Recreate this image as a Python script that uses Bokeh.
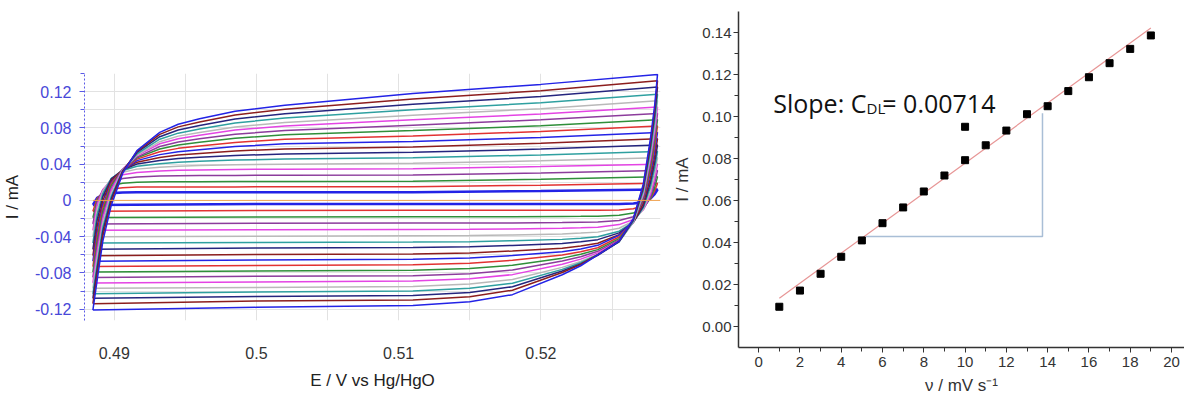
from bokeh.plotting import figure
from bokeh.layouts import row
from bokeh.models import FixedTicker, CustomJSTickFormatter, Label
from bokeh.embed import file_html
from bokeh.resources import INLINE

# ---------------- Left panel: cyclic voltammograms ----------------
E_ANODIC = [0.4885, 0.4888, 0.4892, 0.4898, 0.4906, 0.4916, 0.4932, 0.4945, 0.4960, 0.4985, 0.5020, 0.5110, 0.5200, 0.5282]
E_CATHODIC = [0.5282, 0.5280, 0.5277, 0.5272, 0.5265, 0.5255, 0.5240, 0.5228, 0.5215, 0.5180, 0.5150, 0.5110, 0.5000, 0.4885]

I_ANODIC = [
    [-0.0050, 0.0027, 0.0062, 0.0080, 0.0087, 0.0090, 0.0090, 0.0090, 0.0090, 0.0090, 0.0090, 0.0090, 0.0104, 0.0120],
    [-0.0120, 0.0020, 0.0087, 0.0125, 0.0140, 0.0147, 0.0148, 0.0149, 0.0149, 0.0149, 0.0150, 0.0150, 0.0168, 0.0190],
    [-0.0190, 0.0003, 0.0103, 0.0163, 0.0189, 0.0199, 0.0205, 0.0206, 0.0207, 0.0208, 0.0209, 0.0210, 0.0233, 0.0260],
    [-0.0260, -0.0017, 0.0118, 0.0204, 0.0242, 0.0258, 0.0269, 0.0273, 0.0275, 0.0276, 0.0277, 0.0280, 0.0303, 0.0330],
    [-0.0330, -0.0051, 0.0119, 0.0232, 0.0284, 0.0309, 0.0325, 0.0332, 0.0336, 0.0341, 0.0345, 0.0350, 0.0373, 0.0400],
    [-0.0400, -0.0100, 0.0102, 0.0242, 0.0310, 0.0345, 0.0367, 0.0378, 0.0386, 0.0394, 0.0400, 0.0410, 0.0437, 0.0470],
    [-0.0470, -0.0160, 0.0075, 0.0244, 0.0329, 0.0376, 0.0404, 0.0421, 0.0432, 0.0445, 0.0456, 0.0470, 0.0502, 0.0540],
    [-0.0540, -0.0219, 0.0041, 0.0238, 0.0337, 0.0402, 0.0441, 0.0463, 0.0477, 0.0496, 0.0512, 0.0530, 0.0566, 0.0610],
    [-0.0610, -0.0286, -0.0002, 0.0222, 0.0338, 0.0422, 0.0474, 0.0500, 0.0518, 0.0546, 0.0568, 0.0590, 0.0631, 0.0680],
    [-0.0670, -0.0353, -0.0050, 0.0201, 0.0333, 0.0439, 0.0505, 0.0537, 0.0558, 0.0594, 0.0624, 0.0650, 0.0695, 0.0750],
    [-0.0730, -0.0403, -0.0082, 0.0187, 0.0340, 0.0455, 0.0537, 0.0574, 0.0599, 0.0640, 0.0674, 0.0710, 0.0760, 0.0820],
    [-0.0790, -0.0458, -0.0119, 0.0166, 0.0344, 0.0469, 0.0567, 0.0611, 0.0641, 0.0686, 0.0723, 0.0770, 0.0824, 0.0890],
    [-0.0850, -0.0514, -0.0161, 0.0141, 0.0343, 0.0477, 0.0595, 0.0645, 0.0679, 0.0730, 0.0771, 0.0830, 0.0889, 0.0960],
    [-0.0910, -0.0573, -0.0203, 0.0116, 0.0345, 0.0494, 0.0625, 0.0681, 0.0719, 0.0776, 0.0822, 0.0890, 0.0953, 0.1030],
    [-0.0970, -0.0640, -0.0250, 0.0081, 0.0335, 0.0501, 0.0648, 0.0709, 0.0749, 0.0810, 0.0860, 0.0940, 0.1012, 0.1100],
    [-0.1030, -0.0705, -0.0299, 0.0046, 0.0330, 0.0513, 0.0675, 0.0742, 0.0787, 0.0854, 0.0909, 0.1000, 0.1077, 0.1170],
    [-0.1080, -0.0753, -0.0340, 0.0022, 0.0326, 0.0529, 0.0703, 0.0777, 0.0827, 0.0899, 0.0957, 0.1060, 0.1146, 0.1250],
    [-0.1140, -0.0812, -0.0390, -0.0010, 0.0316, 0.0541, 0.0729, 0.0811, 0.0865, 0.0942, 0.1005, 0.1120, 0.1210, 0.1320],
    [-0.1210, -0.0880, -0.0450, -0.0050, 0.0300, 0.0550, 0.0750, 0.0840, 0.0900, 0.0983, 0.1050, 0.1180, 0.1280, 0.1390],
]

I_CATHODIC = [
    [0.0120, 0.0070, 0.0021, -0.0019, -0.0035, -0.0040, -0.0040, -0.0040, -0.0040, -0.0040, -0.0040, -0.0040, -0.0040, -0.0050],
    [0.0190, 0.0104, 0.0016, -0.0058, -0.0092, -0.0105, -0.0108, -0.0108, -0.0109, -0.0110, -0.0110, -0.0110, -0.0112, -0.0120],
    [0.0260, 0.0144, 0.0022, -0.0085, -0.0140, -0.0165, -0.0174, -0.0176, -0.0177, -0.0180, -0.0180, -0.0180, -0.0183, -0.0190],
    [0.0330, 0.0191, 0.0040, -0.0099, -0.0180, -0.0221, -0.0238, -0.0241, -0.0244, -0.0250, -0.0250, -0.0250, -0.0253, -0.0260],
    [0.0400, 0.0242, 0.0067, -0.0104, -0.0210, -0.0267, -0.0296, -0.0303, -0.0308, -0.0316, -0.0319, -0.0320, -0.0324, -0.0330],
    [0.0470, 0.0298, 0.0103, -0.0098, -0.0229, -0.0307, -0.0350, -0.0361, -0.0370, -0.0381, -0.0387, -0.0390, -0.0395, -0.0400],
    [0.0540, 0.0360, 0.0150, -0.0080, -0.0240, -0.0340, -0.0400, -0.0417, -0.0430, -0.0445, -0.0455, -0.0460, -0.0465, -0.0470],
    [0.0610, 0.0420, 0.0195, -0.0065, -0.0241, -0.0358, -0.0433, -0.0456, -0.0475, -0.0497, -0.0512, -0.0520, -0.0526, -0.0540],
    [0.0680, 0.0483, 0.0243, -0.0036, -0.0243, -0.0378, -0.0472, -0.0502, -0.0527, -0.0558, -0.0579, -0.0590, -0.0597, -0.0610],
    [0.0750, 0.0550, 0.0300, 0.0000, -0.0230, -0.0384, -0.0496, -0.0535, -0.0566, -0.0608, -0.0635, -0.0650, -0.0657, -0.0670],
    [0.0820, 0.0603, 0.0340, 0.0014, -0.0236, -0.0404, -0.0522, -0.0567, -0.0603, -0.0661, -0.0693, -0.0710, -0.0717, -0.0730],
    [0.0890, 0.0656, 0.0380, 0.0028, -0.0239, -0.0421, -0.0543, -0.0595, -0.0637, -0.0715, -0.0751, -0.0770, -0.0778, -0.0790],
    [0.0960, 0.0709, 0.0423, 0.0047, -0.0239, -0.0436, -0.0562, -0.0621, -0.0669, -0.0767, -0.0808, -0.0830, -0.0838, -0.0850],
    [0.1030, 0.0765, 0.0460, 0.0064, -0.0241, -0.0448, -0.0579, -0.0648, -0.0704, -0.0819, -0.0865, -0.0890, -0.0899, -0.0910],
    [0.1100, 0.0819, 0.0499, 0.0081, -0.0239, -0.0458, -0.0595, -0.0674, -0.0739, -0.0872, -0.0923, -0.0950, -0.0960, -0.0970],
    [0.1170, 0.0877, 0.0541, 0.0107, -0.0230, -0.0458, -0.0599, -0.0688, -0.0761, -0.0913, -0.0970, -0.1000, -0.1010, -0.1030],
    [0.1250, 0.0942, 0.0592, 0.0135, -0.0217, -0.0454, -0.0606, -0.0701, -0.0779, -0.0953, -0.1016, -0.1050, -0.1060, -0.1080],
    [0.1320, 0.1000, 0.0638, 0.0158, -0.0207, -0.0449, -0.0599, -0.0707, -0.0795, -0.0991, -0.1062, -0.1100, -0.1110, -0.1140],
    [0.1390, 0.1050, 0.0680, 0.0180, -0.0200, -0.0450, -0.0600, -0.0721, -0.0820, -0.1040, -0.1118, -0.1160, -0.1180, -0.1210],
]

LOOP_COLORS = ["#2323e6", "#e23232", "#2f8f3a", "#8c3c9c", "#e444e4", "#b9b9b9", "#2fa0a0", "#25257e", "#8c1e1e",
               "#2323e6", "#e23232", "#2f8f3a", "#8c3c9c", "#e444e4", "#b9b9b9", "#2fa0a0", "#25257e", "#8c1e1e",
               "#2323e6"]

BASELINE_E = [0.4885, 0.5284]
BASELINE_I = [0.0, 0.0]

CV_Y_TICKS = [-0.12, -0.08, -0.04, 0.0, 0.04, 0.08, 0.12]
CV_Y_MINOR = [-0.14, -0.10, -0.06, -0.02, 0.02, 0.06, 0.10, 0.14]
CV_X_TICKS = [0.49, 0.50, 0.51, 0.52]
CV_X_MINOR = [0.495, 0.505, 0.515, 0.525]

# ---------------- Right panel: double-layer capacitance ----------------
SCAN_RATE = [1, 2, 3, 4, 5, 6, 7, 8, 9, 10, 11, 12, 13, 14, 15, 16, 17, 18, 19, 10]
CURRENT = [0.0094, 0.0171, 0.0251, 0.0332, 0.0410, 0.0492, 0.0567, 0.0643, 0.0719, 0.0792,
           0.0863, 0.0933, 0.1011, 0.1049, 0.1121, 0.1187, 0.1254, 0.1322, 0.1386, 0.0951]
FIT_V = [1, 19]
FIT_I = [0.0135, 0.1421]
TRI_V = [5.2, 13.75, 13.75]
TRI_I = [0.0429, 0.0429, 0.1016]
CDL_X_TICKS = [0, 2, 4, 6, 8, 10, 12, 14, 16, 18, 20]
CDL_X_MINOR = [-1, 1, 3, 5, 7, 9, 11, 13, 15, 17, 19]
CDL_Y_TICKS = [0.0, 0.02, 0.04, 0.06, 0.08, 0.10, 0.12, 0.14]
CDL_Y_MINOR = [0.01, 0.03, 0.05, 0.07, 0.09, 0.11, 0.13]

FONT = "Liberation Sans"

# ---------------- Left figure ----------------
p1 = figure(width=670, height=392, x_range=(0.48791, 0.52841), y_range=(-0.1325, 0.14),
            output_backend="svg", toolbar_location=None,
            min_border_left=78, min_border_right=10, min_border_top=73, min_border_bottom=70)
p1.frame_align = False
p1.outline_line_color = None

for k in range(len(I_ANODIC)):
    xs = E_ANODIC + E_CATHODIC
    ys = I_ANODIC[k] + I_CATHODIC[k]
    p1.line(xs, ys, line_color=LOOP_COLORS[k], line_width=(2.6 if k == 0 else 1.5))
p1.line(BASELINE_E, BASELINE_I, line_color="#f3a44f", line_width=1.0)

p1.yaxis.ticker = FixedTicker(ticks=CV_Y_TICKS, minor_ticks=CV_Y_MINOR)
p1.xaxis.ticker = FixedTicker(ticks=CV_X_TICKS, minor_ticks=CV_X_MINOR)
p1.yaxis.formatter = CustomJSTickFormatter(code="const v = Math.round(tick*100)/100; return v === 0 ? '0' : v.toFixed(2);")
p1.xaxis.formatter = CustomJSTickFormatter(code="return String(Math.round(tick*100)/100);")
for g in (p1.xgrid, p1.ygrid):
    g.grid_line_color = "#e2e2e2"
    g.minor_grid_line_color = "#e2e2e2"

ya = p1.yaxis[0]
ya.axis_line_color = "#5a5ae6"
ya.axis_line_dash = "2 2"
ya.major_tick_line_color = "#5a5ae6"
ya.minor_tick_line_color = "#5a5ae6"
ya.major_tick_out = 5
ya.major_tick_in = 0
ya.minor_tick_out = 4
ya.minor_tick_in = 0
ya.major_label_standoff = 8
ya.major_label_text_color = "#4848d8"
ya.major_label_text_font = FONT
ya.major_label_text_font_size = "16px"
ya.axis_label = "I / mA"
ya.axis_label_text_font = FONT
ya.axis_label_text_font_size = "17px"
ya.axis_label_text_font_style = "normal"
ya.axis_label_text_color = "#222222"
ya.axis_label_standoff = 10

xa = p1.xaxis[0]
xa.axis_line_color = None
xa.major_tick_line_color = None
xa.minor_tick_line_color = None
xa.major_label_standoff = 20
xa.major_label_text_color = "#333333"
xa.major_label_text_font = FONT
xa.major_label_text_font_size = "16px"
xa.axis_label = "E / V vs Hg/HgO"
xa.axis_label_text_font = FONT
xa.axis_label_text_font_size = "17px"
xa.axis_label_text_font_style = "normal"
xa.axis_label_text_color = "#222222"
xa.axis_label_standoff = 9

# ---------------- Right figure ----------------
p2 = figure(width=514, height=398, x_range=(-0.977, 20.63), y_range=(-0.0100, 0.1500),
            output_backend="svg", toolbar_location=None,
            min_border_left=66, min_border_right=0, min_border_top=11, min_border_bottom=51)
p2.frame_align = False
p2.outline_line_color = None
p2.grid.visible = False

p2.line(TRI_V, TRI_I, line_color="#a9bed6", line_width=1.5)
p2.line(FIT_V, FIT_I, line_color="#e79595", line_width=1.2)
p2.scatter(SCAN_RATE, CURRENT, marker="square", size=7, fill_color="black", line_color="black")

p2.xaxis.ticker = FixedTicker(ticks=CDL_X_TICKS, minor_ticks=CDL_X_MINOR)
p2.yaxis.ticker = FixedTicker(ticks=CDL_Y_TICKS, minor_ticks=CDL_Y_MINOR)
p2.yaxis.formatter = CustomJSTickFormatter(code="return tick.toFixed(2);")
p2.xaxis.formatter = CustomJSTickFormatter(code="return String(Math.round(tick));")
for ax in (p2.xaxis[0], p2.yaxis[0]):
    ax.axis_line_color = "#333333"
    ax.axis_line_width = 1.5
    ax.major_tick_line_color = "#333333"
    ax.minor_tick_line_color = "#333333"
    ax.major_tick_out = 5
    ax.major_tick_in = 0
    ax.minor_tick_out = 4
    ax.minor_tick_in = 0
    ax.major_label_text_color = "#333333"
    ax.major_label_text_font = FONT
    ax.major_label_text_font_size = "15px"
    ax.axis_label_text_font = FONT
    ax.axis_label_text_font_size = "17px"
    ax.axis_label_text_font_style = "normal"
    ax.axis_label_text_color = "#333333"
p2.yaxis[0].major_label_standoff = 2
p2.yaxis[0].axis_label = "I / mA"
p2.yaxis[0].axis_label_standoff = 7
p2.xaxis[0].major_label_standoff = 4
p2.xaxis[0].axis_label = "\u03bd / mV s\u207b\u00b9"
p2.xaxis[0].axis_label_standoff = 6

LABEL_FONT = "Open Sans"
p2.add_layout(Label(x=0.706, y=0.1065, text="Slope: C", text_font=LABEL_FONT, text_font_size="25px",
                    text_baseline="alphabetic", text_color="#111111"))
p2.add_layout(Label(x=5.23, y=0.1042, text="DL", text_font=LABEL_FONT, text_font_size="15px",
                    text_baseline="alphabetic", text_color="#111111"))
p2.add_layout(Label(x=5.99, y=0.1065, text="= 0.00714", text_font=LABEL_FONT, text_font_size="25px",
                    text_baseline="alphabetic", text_color="#111111"))

layout = row(p1, p2)
open("out.html", "w").write(file_html(layout, INLINE))
